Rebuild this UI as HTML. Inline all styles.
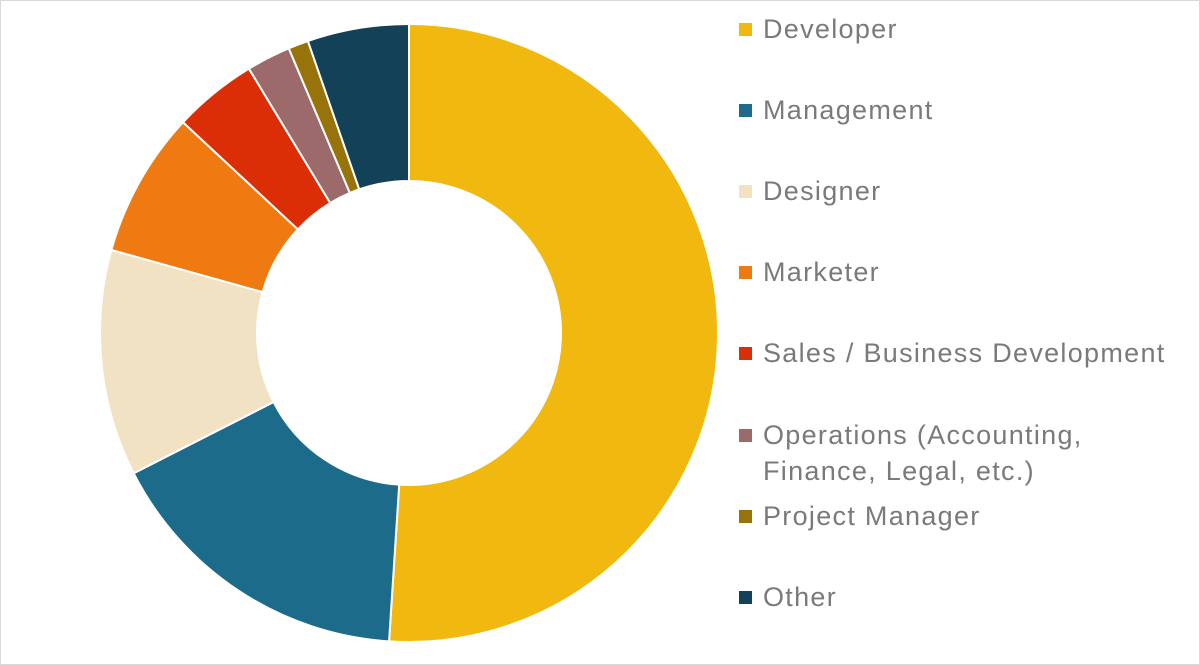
<!DOCTYPE html>
<html><head><style>
body{margin:0;background:#fff;}
.wrap{position:relative;width:1198px;height:663px;border:1px solid #d9d9d9;overflow:hidden;}
text{font-family:"Liberation Sans",sans-serif;font-size:27px;letter-spacing:1.3px;fill:#7a7a7a;}
</style></head><body><div class="wrap">
<svg width="1200" height="665" viewBox="0 0 1200 665" id="s"></svg>
</div>
<script>
const cx=408,cy=332,R=309,r=152;
const segs=[[0,183.7,'#f1b90f'],[183.7,243,'#1d6b8a'],[243,285.6,'#f2e2c4'],[285.6,313,'#f07a12'],[313,328.8,'#db2e07'],[328.8,337.1,'#9c6a6a'],[337.1,340.9,'#987309'],[340.9,360,'#134157']];
function p(a,rad){const t=a*Math.PI/180;return [cx+rad*Math.sin(t),cy-rad*Math.cos(t)];}
let h='';
for(const [a,b,c] of segs){const l=(b-a)>180?1:0;const [x1,y1]=p(a,R),[x2,y2]=p(b,R),[x3,y3]=p(b,r),[x4,y4]=p(a,r);
h+=`<path d="M${x1} ${y1}A${R} ${R} 0 ${l} 1 ${x2} ${y2}L${x3} ${y3}A${r} ${r} 0 ${l} 0 ${x4} ${y4}Z" fill="${c}" stroke="#fff" stroke-width="2"/>`;}
const leg=[['Developer',28],['Management',109],['Designer',190],['Marketer',271],['Sales / Business Development',352],['Operations (Accounting,',434],['Project Manager',515],['Other',596]];
leg.forEach(([t,y],i)=>{h+=`<rect x="738" y="${y-6}" width="13" height="13" fill="${segs[i][2]}"/><text x="762" y="${y+9}">${t}</text>`;});
h+=`<text x="762" y="479">Finance, Legal, etc.)</text>`;
document.getElementById('s').innerHTML=h;
</script></body></html>
